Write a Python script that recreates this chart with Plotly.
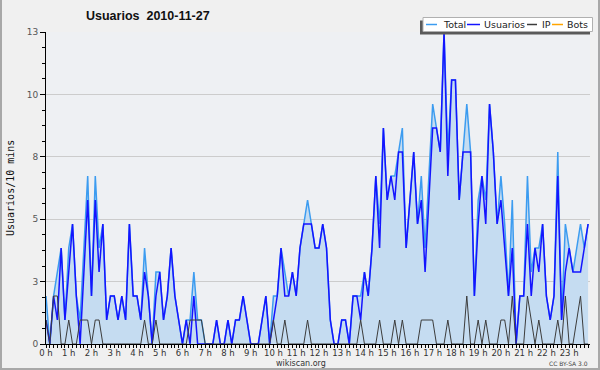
import plotly.graph_objects as go

# 10-minute slots over the day (144 slots)
usuarios = [
    1, 0, 2, 1, 4, 1, 3, 5, 2, 0,
    3, 6, 2, 6, 3, 5, 1, 2, 2, 1,
    2, 1, 5, 2, 2, 1, 3, 2, 0, 2,
    3, 1, 2, 4, 2, 1, 0, 1, 0, 2,
    0, 0, 0, 0, 0, 1, 0, 0, 1, 0,
    1, 1, 2, 1, 0, 0, 0, 1, 2, 0,
    1, 2, 4, 2, 2, 3, 2, 4, 5, 5,
    5, 4, 4, 5, 4, 1, 0, 0, 1, 1,
    0, 2, 2, 1, 3, 2, 4, 7, 4, 9,
    6, 7, 6, 8, 8, 4, 6, 8, 5, 6,
    3, 6, 9, 9, 8, 13, 7, 11, 11, 6,
    8, 8, 8, 2, 5, 7, 5, 10, 8, 5,
    6, 4, 2, 4, 0, 2, 2, 5, 2, 4,
    3, 5, 2, 1, 2, 7, 1, 3, 4, 3,
    3, 3, 4, 5,
]
ip = [
    1, 0, 2, 2, 0, 0, 1, 0, 0, 1,
    1, 1, 0, 1, 1, 0, 0, 0, 0, 0,
    0, 0, 0, 0, 0, 0, 1, 0, 0, 1,
    0, 0, 0, 0, 0, 0, 0, 0, 1, 1,
    1, 1, 0, 0, 0, 0, 0, 0, 0, 0,
    0, 0, 0, 0, 0, 0, 0, 0, 0, 0,
    1, 0, 0, 1, 0, 0, 0, 0, 0, 1,
    0, 0, 0, 0, 0, 0, 0, 0, 0, 0,
    0, 0, 0, 1, 0, 0, 0, 0, 1, 0,
    0, 0, 1, 0, 1, 0, 0, 0, 0, 1,
    1, 1, 1, 0, 0, 0, 1, 0, 0, 0,
    0, 2, 0, 0, 1, 0, 1, 0, 0, 0,
    1, 1, 0, 2, 0, 0, 0, 2, 1, 0,
    1, 0, 0, 0, 0, 1, 0, 2, 0, 0,
    1, 2, 0, 0,
]
total = [
    2, 0, 2, 3, 4, 1, 4, 5, 2, 1,
    4, 7, 2, 7, 4, 5, 1, 2, 2, 1,
    2, 1, 5, 2, 2, 1, 4, 2, 0, 3,
    3, 1, 2, 4, 2, 1, 0, 1, 1, 3,
    1, 1, 0, 0, 0, 1, 0, 0, 1, 0,
    1, 1, 2, 1, 0, 0, 0, 1, 2, 0,
    2, 2, 4, 3, 2, 3, 2, 4, 5, 6,
    5, 4, 4, 5, 4, 1, 0, 0, 1, 1,
    0, 2, 2, 2, 3, 2, 4, 7, 5, 9,
    6, 7, 7, 8, 9, 4, 6, 8, 5, 7,
    4, 7, 10, 9, 8, 13, 8, 11, 11, 6,
    8, 10, 8, 2, 6, 7, 6, 10, 8, 5,
    7, 5, 2, 6, 0, 2, 2, 7, 3, 4,
    4, 5, 2, 1, 2, 8, 1, 5, 4, 3,
    4, 5, 4, 5,
]
bots = [0] * 144

hours = [i / 6 for i in range(len(total))]
hour_ticks = list(range(24))
hour_labels = [f"{h} h" for h in hour_ticks]
y_tickvals = [0, 2.6, 5.2, 7.8, 10.4, 13]
y_ticktext = ["0", "3", "5", "8", "10", "13"]

C_TOTAL = "#3c9cf0"
C_USU = "#1414ff"
C_IP = "#3c3c3c"
C_BOTS = "#ffa500"

fig = go.Figure()
fig.add_trace(go.Scatter(x=hours, y=bots, mode="lines", name="Bots",
                         line=dict(color=C_BOTS, width=1)))
fig.add_trace(go.Scatter(x=hours, y=total, mode="lines", name="Total",
                         fill="tozeroy", fillcolor="#c5dcf1",
                         line=dict(color=C_TOTAL, width=1.5)))
fig.add_trace(go.Scatter(x=hours, y=usuarios, mode="lines", name="Usuarios",
                         line=dict(color=C_USU, width=1.5)))
fig.add_trace(go.Scatter(x=hours, y=ip, mode="lines", name="IP",
                         line=dict(color=C_IP, width=1)))

L, R, T, B = 46, 10, 32, 26
PW, PH = 600 - L - R, 370 - T - B


def px(xp):
    return (xp - L) / PW


def py(yp):
    return (370 - B - yp) / PH


shapes = []
# outer frame (left, right, bottom)
shapes.append(dict(type="path", xref="paper", yref="paper",
                   path=f"M {px(1)} {py(0)} L {px(1)} {py(369)} L {px(599)} {py(369)} L {px(599)} {py(0)}",
                   line=dict(color="#a8a8a8", width=2)))
# legend shadow & box
shapes.append(dict(type="rect", xref="paper", yref="paper",
                   x0=px(420), x1=px(590), y0=py(34.5), y1=py(20.5),
                   fillcolor="#5a5a5a", line=dict(width=0)))
shapes.append(dict(type="rect", xref="paper", yref="paper",
                   x0=px(423), x1=px(592.5), y0=py(31.5), y1=py(17.5),
                   fillcolor="white", line=dict(color="#b0b0b0", width=1)))

annotations = []
legend_items = [("Total", C_TOTAL, 426, 437, 442),
                ("Usuarios", C_USU, 467, 480, 483),
                ("IP", C_IP, 527, 537, 541),
                ("Bots", C_BOTS, 552, 563, 566)]
for name, col, lx0, lx1, tx in legend_items:
    shapes.append(dict(type="line", xref="paper", yref="paper",
                       x0=px(lx0), x1=px(lx1), y0=py(24.5), y1=py(24.5),
                       line=dict(color=col, width=1.5)))
    annotations.append(dict(text=name, xref="paper", yref="paper",
                            x=px(tx), y=py(24.5), xanchor="left", yanchor="middle",
                            showarrow=False, borderpad=0,
                            font=dict(family="DejaVu Sans", size=9.5, color="#222")))

annotations.append(dict(text="<b>Usuarios  2010-11-27</b>", xref="paper", yref="paper",
                        x=px(85), y=py(16), xanchor="left", yanchor="middle",
                        showarrow=False, borderpad=0,
                        font=dict(family="Liberation Sans", size=12.5, color="#111")))
annotations.append(dict(text="Usuarios/10 mins", xref="paper", yref="paper",
                        x=px(10), y=py(188), xanchor="center", yanchor="middle",
                        textangle=-90, showarrow=False, borderpad=0,
                        font=dict(family="DejaVu Sans Mono", size=10, color="#111")))
annotations.append(dict(text="wikiscan.org", xref="paper", yref="paper",
                        x=px(301), y=py(363), xanchor="center", yanchor="middle",
                        showarrow=False, borderpad=0,
                        font=dict(family="DejaVu Sans", size=8, color="#333")))
annotations.append(dict(text="CC BY-SA 3.0", xref="paper", yref="paper",
                        x=px(589), y=py(363.5), xanchor="right", yanchor="middle",
                        showarrow=False, borderpad=0,
                        font=dict(family="DejaVu Sans", size=6, color="#444")))

fig.update_layout(
    width=600, height=370,
    margin=dict(l=L, r=R, t=T, b=B),
    paper_bgcolor="#f0f0f0",
    plot_bgcolor="#eef0f3",
    showlegend=False,
    shapes=shapes,
    annotations=annotations,
    xaxis=dict(range=[0, 143.5 / 6], tickmode="array", tickvals=hour_ticks,
               ticktext=hour_labels, ticks="outside", ticklen=3, tickwidth=1,
               tickcolor="black", showline=True, linecolor="black", linewidth=1,
               showgrid=False, zeroline=False, ticklabelstandoff=-2,
               tickfont=dict(family="DejaVu Sans", size=8.5, color="#333"),
               minor=dict(tickmode="linear", tick0=0, dtick=1 / 6, ticks="outside",
                          ticklen=3, tickcolor="black", showgrid=False)),
    yaxis=dict(range=[0, 13], tickmode="array", tickvals=y_tickvals,
               ticktext=y_ticktext, ticks="outside", ticklen=5, tickwidth=1,
               tickcolor="black", showline=True, linecolor="black", linewidth=1,
               showgrid=True, gridcolor="#cccccc", gridwidth=1, zeroline=False,
               tickfont=dict(family="DejaVu Sans", size=9, color="#555"),
               minor=dict(tickmode="linear", tick0=0, dtick=0.65, ticks="outside",
                          ticklen=3, tickcolor="black", showgrid=False)),
)

fig.write_html("out.html", config={"displayModeBar": False},
               post_script="document.body.style.margin='0';document.body.style.overflow='hidden';")
